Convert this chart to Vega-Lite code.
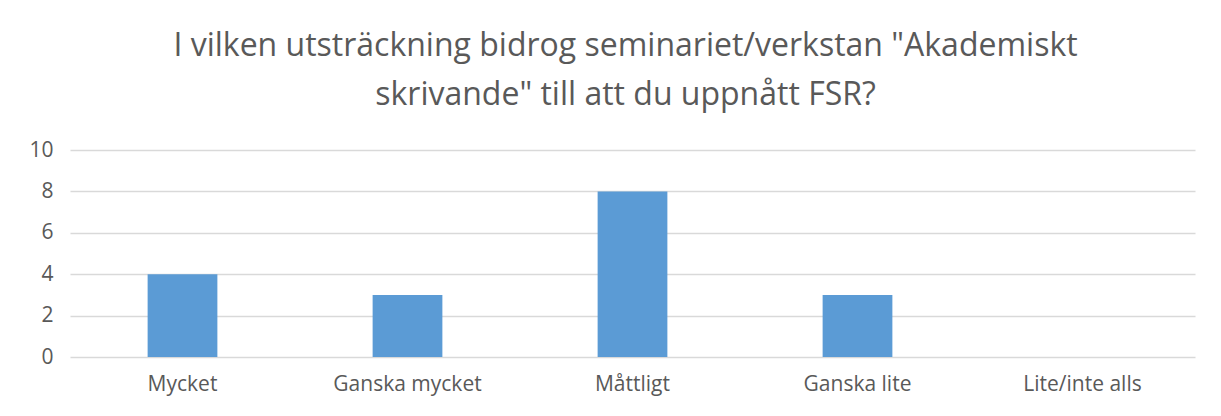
{
  "$schema": "https://vega.github.io/schema/vega-lite/v6.json",
  "width": 1125,
  "height": 207,
  "autosize": {"type": "none"},
  "padding": {"left": 70, "top": 150, "right": 26, "bottom": 59},
  "background": "white",
  "title": {
    "text": ["I vilken utsträckning bidrog seminariet/verkstan \"Akademiskt", "skrivande\" till att du uppnått FSR?"],
    "fontSize": 32,
    "font": "Open Sans",
    "fontWeight": "normal",
    "color": "#595959",
    "lineHeight": 49,
    "anchor": "middle",
    "frame": "group",
    "offset": 27,
    "dx": -7
  },
  "data": {
    "values": [
      {"kategori": "Mycket", "antal": 4},
      {"kategori": "Ganska mycket", "antal": 3},
      {"kategori": "Måttligt", "antal": 8},
      {"kategori": "Ganska lite", "antal": 3},
      {"kategori": "Lite/inte alls", "antal": 0}
    ]
  },
  "mark": {"type": "bar", "color": "#5b9bd5"},
  "encoding": {
    "x": {
      "field": "kategori",
      "type": "nominal",
      "sort": null,
      "scale": {"paddingInner": 0.69, "paddingOuter": 0.345},
      "axis": {
        "title": null,
        "labelAngle": 0,
        "ticks": false,
        "domain": false,
        "labelFontSize": 21,
        "labelFont": "Open Sans",
        "labelColor": "#595959",
        "labelPadding": 16
      }
    },
    "y": {
      "field": "antal",
      "type": "quantitative",
      "scale": {"domain": [0, 10]},
      "axis": {
        "title": null,
        "values": [0, 2, 4, 6, 8, 10],
        "ticks": false,
        "domain": false,
        "labelFontSize": 21,
        "labelFont": "Open Sans",
        "labelColor": "#595959",
        "labelPadding": 17,
        "gridColor": "#d9d9d9",
        "gridWidth": 1.3
      }
    }
  },
  "config": {"view": {"stroke": null}}
}
